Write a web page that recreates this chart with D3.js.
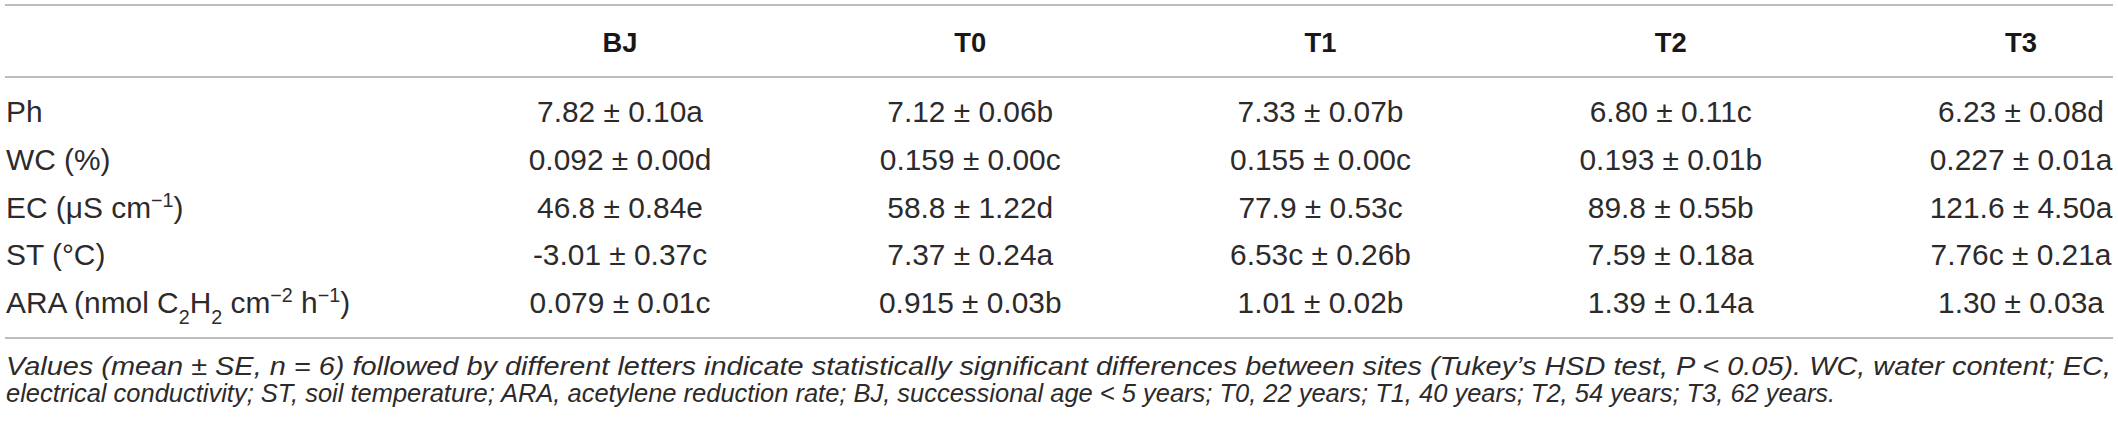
<!DOCTYPE html>
<html>
<head>
<meta charset="utf-8">
<script src="https://cdn.jsdelivr.net/npm/d3@7/dist/d3.min.js"></script>
<style>
  html, body { margin: 0; padding: 0; background: #ffffff; }
  svg { display: block; }
</style>
</head>
<body>
<div id="chart"></div>
<script>
// ---------- data ----------
const sites = ["BJ", "T0", "T1", "T2", "T3"];
const rowLabels = [
  "Ph",
  "WC (%)",
  "EC (μS cm^{−1})",
  "ST (°C)",
  "ARA (nmol C_{2}H_{2} cm^{−2} h^{−1})"
];
const rowBJ = ["7.82 ± 0.10a", "0.092 ± 0.00d", "46.8 ± 0.84e", "-3.01 ± 0.37c", "0.079 ± 0.01c"];
const rowT0 = ["7.12 ± 0.06b", "0.159 ± 0.00c", "58.8 ± 1.22d", "7.37 ± 0.24a", "0.915 ± 0.03b"];
const rowT1 = ["7.33 ± 0.07b", "0.155 ± 0.00c", "77.9 ± 0.53c", "6.53c ± 0.26b", "1.01 ± 0.02b"];
const rowT2 = ["6.80 ± 0.11c", "0.193 ± 0.01b", "89.8 ± 0.55b", "7.59 ± 0.18a", "1.39 ± 0.14a"];
const rowT3 = ["6.23 ± 0.08d", "0.227 ± 0.01a", "121.6 ± 4.50a", "7.76c ± 0.21a", "1.30 ± 0.03a"];
const footnote1 = "Values (mean ± SE, n = 6) followed by different letters indicate statistically significant differences between sites (Tukey’s HSD test, P < 0.05). WC, water content; EC,";
const footnote2 = "electrical conductivity; ST, soil temperature; ARA, acetylene reduction rate; BJ, successional age < 5 years; T0, 22 years; T1, 40 years; T2, 54 years; T3, 62 years.";

const columns = [rowBJ, rowT0, rowT1, rowT2, rowT3];

// ---------- layout ----------
const W = 2118, H = 423;
const left = 5, right = 2113;
const textColor = "#2d2a2b";
const ruleColor = "#a9a9a9";
const font = "'Liberation Sans', Arial, Helvetica, sans-serif";

const svg = d3.select("#chart").append("svg")
  .attr("width", W).attr("height", H)
  .attr("viewBox", `0 0 ${W} ${H}`);

// measure helper: font size giving a target width
function fitSize(str, target, attrs) {
  const t = svg.append("text").attr("font-family", font).attr("font-size", 100);
  Object.entries(attrs || {}).forEach(([k, v]) => t.attr(k, v));
  t.text(str);
  const w = t.node().getComputedTextLength();
  t.remove();
  return 100 * target / w;
}
const bodySize = fitSize("7.82 ± 0.10a", 166);
const headSize = fitSize("BJ", 35, { "font-weight": "bold" });
const noteSize = fitSize(footnote2, 1830, { "font-style": "italic" });
const subSize = bodySize * 0.66;

const x = d3.scalePoint().domain(sites).range([620, 2021]);
const y = d3.scalePoint().domain(d3.range(rowLabels.length)).range([122, 313]);

// rules
const rules = [5, 77, 338];
svg.selectAll("line.rule").data(rules).join("line")
  .attr("class", "rule")
  .attr("x1", left).attr("x2", right)
  .attr("y1", d => d).attr("y2", d => d)
  .attr("stroke", ruleColor).attr("stroke-width", 1.6);

// header
svg.selectAll("text.head").data(sites).join("text")
  .attr("class", "head")
  .attr("x", d => x(d)).attr("y", 52)
  .attr("text-anchor", "middle")
  .attr("font-family", font).attr("font-weight", "bold")
  .attr("font-size", headSize).attr("fill", "#1a1718")
  .text(d => d);

// row labels with super/subscripts
function parseLabel(s) {
  const parts = [];
  const re = /(\^|_)\{([^}]*)\}/g;
  let last = 0, m;
  while ((m = re.exec(s)) !== null) {
    if (m.index > last) parts.push({ t: s.slice(last, m.index), k: "n" });
    parts.push({ t: m[2], k: m[1] === "^" ? "sup" : "sub" });
    last = re.lastIndex;
  }
  if (last < s.length) parts.push({ t: s.slice(last), k: "n" });
  return parts;
}

const labels = svg.selectAll("text.lab").data(rowLabels).join("text")
  .attr("class", "lab")
  .attr("x", 6).attr("y", (d, i) => y(i))
  .attr("font-family", font).attr("font-size", bodySize).attr("fill", textColor);

const supUp = bodySize * 0.36, subDown = bodySize * 0.36;
labels.each(function (d) {
  const t = d3.select(this);
  const parts = parseLabel(d);
  let off = 0;
  parts.forEach(p => {
    const span = t.append("tspan").text(p.t);
    let target = 0;
    if (p.k === "sup") { span.attr("font-size", subSize); target = -supUp; }
    else if (p.k === "sub") { span.attr("font-size", subSize); target = subDown; }
    const dy = target - off;
    if (dy) span.attr("dy", dy);
    off = target;
  });
});

// cells
const cells = [];
columns.forEach((col, ci) => col.forEach((v, ri) => cells.push({ site: sites[ci], row: ri, v })));
svg.selectAll("text.cell").data(cells).join("text")
  .attr("class", "cell")
  .attr("x", d => x(d.site)).attr("y", d => y(d.row))
  .attr("text-anchor", "middle")
  .attr("font-family", font).attr("font-size", bodySize).attr("fill", textColor)
  .text(d => d.v);

// footnote
const fn = svg.append("g").attr("font-family", font).attr("font-style", "italic")
  .attr("font-size", noteSize).attr("fill", textColor);
fn.append("text").attr("x", 6).attr("y", 375)
  .attr("textLength", right - 8).attr("lengthAdjust", "spacingAndGlyphs")
  .text(footnote1);
fn.append("text").attr("x", 6).attr("y", 402).text(footnote2);
</script>
</body>
</html>
